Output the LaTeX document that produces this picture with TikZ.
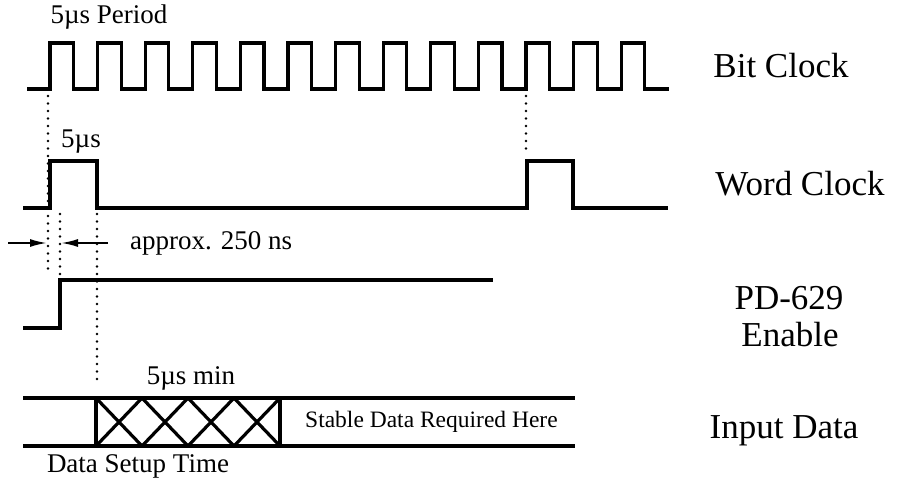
\documentclass[tikz,border=0pt]{standalone}
\usepackage{fontspec}
\setmainfont{Liberation Serif}
\usetikzlibrary{arrows.meta}
\begin{document}
\begin{tikzpicture}[x=1pt,y=-1pt,
  sig/.style={line width=3.2pt,line join=miter},
  dotline/.style={line width=2.8pt,line cap=round,dash pattern=on 0pt off 7.5pt},
  dimarrow/.style={line width=2pt,-{Latex[length=17pt,width=8pt]}},
  biglabel/.style={font=\fontsize{35}{38}\selectfont,inner sep=0pt,align=center},
  smalllabel/.style={font=\fontsize{27}{30}\selectfont,inner sep=0pt},
  tinylabel/.style={font=\fontsize{23.5}{26}\selectfont,inner sep=0pt}]
\useasboundingbox (0,0) rectangle (903,485);
% ---- Bit clock
\draw[sig] (27,89) -- (50,89)
  \foreach \k in {0,...,12} { -- ++(0,-46) -- ++(23.5,0) -- ++(0,46) -- ++(24.1,0) };
% ---- Word clock
\draw[sig] (23,208) -- (50,208) -- (50,161) -- (97,161) -- (97,208) -- (527,208)
  -- (527,161) -- (573,161) -- (573,208) -- (668,208);
% ---- PD-629 enable
\draw[sig] (23,328) -- (60,328) -- (60,280) -- (493,280);
% ---- Input data
\draw[sig] (23,398) -- (575,398);
\draw[sig] (23,446) -- (575,446);
\draw[sig] (96,398) -- (96,446);
\draw[sig] (280,398) -- (280,446);
\foreach \k in {0,1,2,3} {
  \draw[sig] (96+46*\k,398) -- (96+46*\k+46,446);
  \draw[sig] (96+46*\k,446) -- (96+46*\k+46,398);
}
% ---- dotted guide lines
\coordinate (d1a) at (48,96);   \coordinate (d1b) at (48,276);
\coordinate (d2a) at (60,214);  \coordinate (d2b) at (60,276);
\coordinate (d3a) at (97,214);  \coordinate (d3b) at (97,385);
\coordinate (d4a) at (526,96);  \coordinate (d4b) at (526,152);
\draw[dotline] (d1a) -- (d1b);
\draw[dotline] (d2a) -- (d2b);
\draw[dotline] (d3a) -- (d3b);
\draw[dotline] (d4a) -- (d4b);
% ---- dimension arrows
\coordinate (aL) at (8,243);  \coordinate (aLt) at (47,243);
\coordinate (aR) at (108,243); \coordinate (aRt) at (61,243);
\draw[dimarrow] (aL) -- (aLt);
\draw[dimarrow] (aR) -- (aRt);
% ---- labels
\node[smalllabel] (period) at (109,17) {5µs Period};
\node[smalllabel] (wc5) at (81,142) {5µs};
\node[smalllabel,anchor=west] (approx) at (130,243) {approx. 250 ns};
\node[smalllabel] (min) at (191,378) {5µs min};
\node[smalllabel] (setup) at (138,466) {Data Setup Time};
\node[tinylabel,anchor=west] (stable) at (305,422) {Stable Data Required Here};
\node[biglabel] (bit) at (781,66) {Bit Clock};
\node[biglabel] (word) at (800,184) {Word Clock};
\node[biglabel] (pd) at (789,298) {PD-629};
\node[biglabel] (en) at (790,335) {Enable};
\node[biglabel] (input) at (784,431) {Input Data};
\end{tikzpicture}
\end{document}
